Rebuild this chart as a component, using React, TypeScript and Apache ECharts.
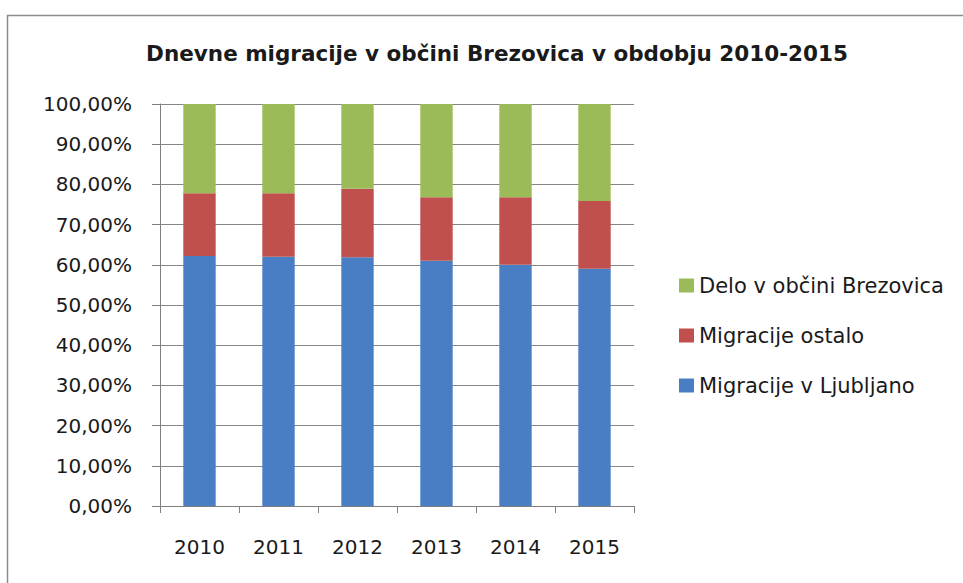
import React, { useEffect, useRef } from "react";
import * as echarts from "echarts";

const years = ["2010", "2011", "2012", "2013", "2014", "2015"];
const ljubljana = [62.2, 62.0, 61.9, 61.0, 60.0, 59.0];
const ostalo = [15.6, 15.8, 17.0, 15.8, 16.8, 16.9];
const delo = [22.2, 22.2, 21.1, 23.2, 23.2, 24.1];
const titleText = "Dnevne migracije v občini Brezovica v obdobju 2010-2015";
const seriesNames = ["Migracije v Ljubljano", "Migracije ostalo", "Delo v občini Brezovica"];

const FONT = "DejaVu Sans";

export default function App() {
  const ref = useRef<HTMLDivElement>(null);
  useEffect(() => {
    if (!ref.current) return;
    const chart = echarts.init(ref.current, undefined, { renderer: "svg" });
    const mk = (name: string, data: number[], color: string) => ({
      name,
      type: "bar",
      stack: "total",
      data,
      barCategoryGap: "59%",
      itemStyle: { color },
    });
    chart.setOption({
      animation: false,
      backgroundColor: "#ffffff",
      title: {
        text: titleText,
        left: 492,
        textAlign: "center",
        top: 37,
        textStyle: { fontFamily: FONT, fontSize: 21.5, fontWeight: "bold", color: "#1a1a1a" },
      },
      graphic: [
        {
          type: "rect",
          shape: { x: 7.5, y: 15.5, width: 970, height: 600 },
          style: { fill: "none", stroke: "#8c8c8c", lineWidth: 1.5 },
        },
      ],
      legend: {
        orient: "vertical",
        left: 674,
        top: 270,
        data: [seriesNames[2], seriesNames[1], seriesNames[0]],
        icon: "rect",
        itemWidth: 15,
        itemHeight: 14,
        itemGap: 29,
        textStyle: { fontFamily: FONT, fontSize: 21, color: "#1a1a1a", lineHeight: 20, padding: [0, 0, 0, 0] },
      },
      grid: { left: 160, right: 329, top: 104, bottom: 77 },
      xAxis: {
        type: "category",
        data: years,
        axisLine: { lineStyle: { color: "#7f7f7f", width: 1 } },
        axisTick: { show: true, length: 7, lineStyle: { color: "#7f7f7f" } },
        axisLabel: { fontFamily: FONT, fontSize: 20, color: "#1a1a1a", margin: 31 },
      },
      yAxis: {
        type: "value",
        min: 0,
        max: 100,
        interval: 10,
        axisLine: { show: true, lineStyle: { color: "#7f7f7f", width: 1 } },
        axisTick: { show: true, length: 8, lineStyle: { color: "#7f7f7f" } },
        splitLine: { lineStyle: { color: "#868686", width: 1 } },
        axisLabel: {
          fontFamily: FONT,
          fontSize: 20,
          color: "#1a1a1a",
          margin: 28,
          formatter: (v: number) => v.toFixed(2).replace(".", ",") + "%",
        },
      },
      series: [
        mk(seriesNames[0], ljubljana, "#4a7ec4"),
        mk(seriesNames[1], ostalo, "#c0504d"),
        mk(seriesNames[2], delo, "#9bbb59"),
      ],
    });
    return () => chart.dispose();
  }, []);
  return <div ref={ref} style={{ width: 963, height: 583, position: "absolute", left: 0, top: 0 }} />;
}
